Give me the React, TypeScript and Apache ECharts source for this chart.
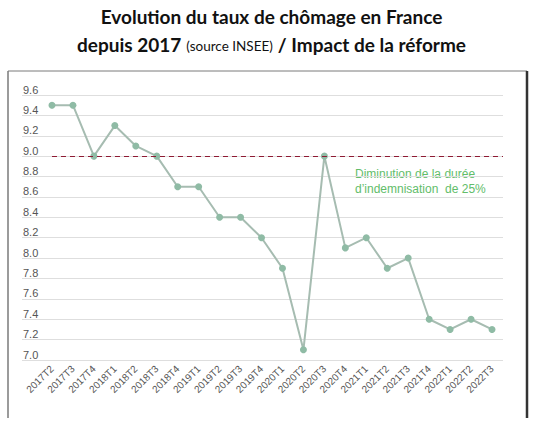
import { useEffect, useRef } from 'react'
import * as echarts from 'echarts'

const quarters = [
  '2017T2', '2017T3', '2017T4', '2018T1', '2018T2', '2018T3', '2018T4',
  '2019T1', '2019T2', '2019T3', '2019T4', '2020T1', '2020T2', '2020T3',
  '2020T4', '2021T1', '2021T2', '2021T3', '2021T4', '2022T1', '2022T2', '2022T3'
]
const unemployment = [
  9.5, 9.5, 9.0, 9.3, 9.1, 9.0, 8.7, 8.7, 8.4, 8.4, 8.2, 7.9, 7.1, 9.0,
  8.1, 8.2, 7.9, 8.0, 7.4, 7.3, 7.4, 7.3
]
const reformLevel = 9.0
const reformNote = ['Diminution de la durée', 'd\u2019indemnisation  de 25%']

const yMin = 7.0
const yMax = 9.6
const yStep = 0.2

export default function App() {
  const chartRef = useRef<HTMLDivElement | null>(null)

  useEffect(() => {
    document.body.style.margin = '0'
    if (!chartRef.current) return
    const chart = echarts.init(chartRef.current, undefined, { renderer: 'svg' })

    const font = 'Liberation Sans, Arial, sans-serif'
    const titleFont = 'Lato, Open Sans, sans-serif'

    chart.setOption({
      animation: false,
      backgroundColor: '#ffffff',
      title: [
        {
          text: 'Evolution du taux de chômage en France',
          left: 'center',
          top: 2,
          textStyle: { fontFamily: titleFont, fontSize: 19, fontWeight: 'bold', color: '#111' }
        },
        {
          text: '{b|depuis 2017} {s|(source INSEE)} {b|/ Impact de la réforme}',
          left: 'center',
          top: 30,
          textStyle: {
            fontWeight: 'normal',
            rich: {
              b: { fontFamily: titleFont, fontSize: 19, fontWeight: 'bold', color: '#111' },
              s: { fontFamily: titleFont, fontSize: 13.5, fontWeight: 'normal', color: '#111', padding: [3, 0, 0, 0] }
            }
          }
        }
      ],
      grid: [
        { left: 22, right: 40, top: 95, bottom: 73 },
        { left: 41.5, right: 40.5, top: 95, bottom: 73 }
      ],
      xAxis: [
        {
          type: 'value',
          gridIndex: 0,
          min: 0,
          max: 1,
          show: false
        },
        {
          type: 'category',
          gridIndex: 1,
          data: quarters,
          boundaryGap: true,
          axisLine: { show: false },
          axisTick: { show: false },
          axisLabel: {
            rotate: 45,
            interval: 0,
            margin: 7,
            color: '#555',
            fontSize: 10,
            fontFamily: font
          }
        }
      ],
      yAxis: [
        {
          type: 'value',
          gridIndex: 0,
          min: yMin,
          max: yMax,
          interval: yStep,
          axisLine: { show: false },
          axisTick: { show: false },
          axisLabel: {
            inside: true,
            margin: 1,
            verticalAlign: 'bottom',
            color: '#555',
            fontSize: 11,
            fontFamily: font,
            formatter: (v: number) => v.toFixed(1)
          },
          splitLine: { lineStyle: { color: '#dedede', width: 1 } }
        },
        {
          type: 'value',
          gridIndex: 1,
          min: yMin,
          max: yMax,
          interval: yStep,
          show: false,
          splitLine: { show: false }
        }
      ],
      series: [
        {
          type: 'line',
          xAxisIndex: 1,
          yAxisIndex: 1,
          data: unemployment,
          symbol: 'circle',
          symbolSize: 7,
          lineStyle: { color: '#a6bcb1', width: 2 },
          itemStyle: { color: '#8fbba5' },
          markLine: {
            silent: true,
            symbol: ['none', 'none'],
            label: { show: false },
            lineStyle: { color: '#8e1a33', type: [5, 4], width: 1.2 },
            data: [
              [
                { xAxis: 0, yAxis: reformLevel },
                { xAxis: quarters.length - 1, yAxis: reformLevel, x: 503 }
              ]
            ]
          }
        }
      ],
      graphic: [
        {
          type: 'text',
          left: 355,
          top: 166,
          style: {
            text: reformNote.join('\n'),
            fill: '#62bd6a',
            font: `12px ${font}`,
            lineHeight: 15
          }
        },
        {
          type: 'line',
          shape: { x1: 8, y1: 71, x2: 527, y2: 71 },
          style: { stroke: '#7a7a7a', lineWidth: 1 }
        },
        {
          type: 'line',
          shape: { x1: 8, y1: 71, x2: 8, y2: 418 },
          style: { stroke: '#7a7a7a', lineWidth: 1.5 }
        },
        {
          type: 'line',
          shape: { x1: 527, y1: 71, x2: 527, y2: 418 },
          style: { stroke: '#333', lineWidth: 2.5 }
        }
      ]
    })

    return () => {
      chart.dispose()
    }
  }, [])

  return <div ref={chartRef} style={{ width: 543, height: 433 }} />
}
